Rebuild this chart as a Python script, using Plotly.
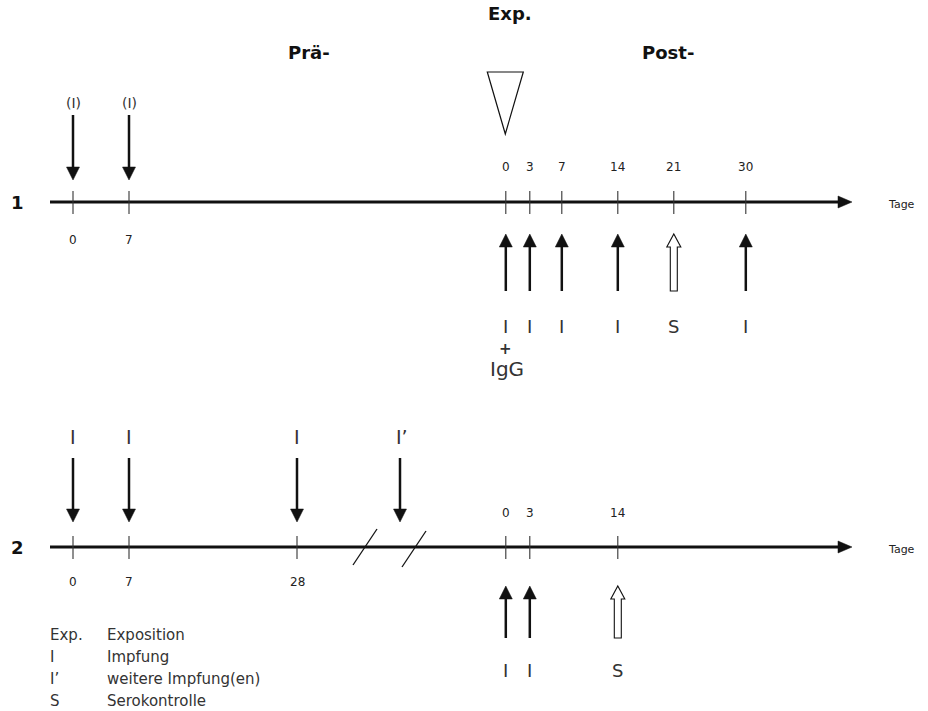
"""
Impfschema: Prä- und Postexpositionsprophylaxe
"""
import plotly.graph_objects as go

# ---- data (days) ----
PRE_DAYS_1 = [0, 7]
PRE_LABELS_1 = ['(I)', '(I)']
POST_DAYS_1 = [0, 3, 7, 14, 21, 30]
POST_KINDS_1 = ['I', 'I', 'I', 'I', 'S', 'I']

PRE_DAYS_2 = [0, 7, 28]
PRE_LABELS_2 = ['I', 'I', 'I']
POST_DAYS_2 = [0, 3, 14]
POST_KINDS_2 = ['I', 'I', 'S']

LEGEND_KEYS = ['Exp.', 'I', 'I\u2019', 'S']
LEGEND_TEXT = ['Exposition', 'Impfung', 'weitere Impfung(en)', 'Serokontrolle']

# ---- layout ----
W, H = 928, 711
PX_PER_DAY = 8.0
X0 = -9.125                      # axis value at left edge
POST_OFFSET = 54.1               # post-exposure day 0 on the axis
FONT = 'DejaVu Sans, Verdana, sans-serif'
INK = '#111111'
GREY = '#333333'


def px(p):
    """pixel column -> x axis value (layout helpers only)"""
    return X0 + p / PX_PER_DAY


def u(p):
    """pixel length -> x axis units"""
    return p / PX_PER_DAY


fig = go.Figure()
shapes = []
notes = []


def text(x, y, s, size=12, bold=False, color='#222222', anchor='center'):
    notes.append(dict(x=x, y=y, text=f'<b>{s}</b>' if bold else s,
                      showarrow=False, xanchor=anchor, yanchor='middle',
                      font=dict(family=FONT, size=size, color=color)))


def line(x0, y0, x1, y1, width=1.2, color=INK):
    shapes.append(dict(type='line', x0=x0, y0=y0, x1=x1, y1=y1,
                       line=dict(color=color, width=width)))


def arrow(x, y_tail, y_tip, hollow=False):
    d = 1 if y_tip > y_tail else -1
    head = 13
    base = y_tip - d * head
    if hollow:
        sw, hw = u(3.5), u(7)
        path = (f'M {x - sw},{y_tail} L {x - sw},{base} L {x - hw},{base} '
                f'L {x},{y_tip} L {x + hw},{base} L {x + sw},{base} '
                f'L {x + sw},{y_tail} Z')
        shapes.append(dict(type='path', path=path, fillcolor='white',
                           line=dict(color=INK, width=1.1)))
    else:
        line(x, y_tail, x, base + d, width=2.5)
        hw = u(6.5)
        path = f'M {x - hw},{base} L {x},{y_tip} L {x + hw},{base} Z'
        shapes.append(dict(type='path', path=path, fillcolor=INK,
                           line=dict(color=INK, width=0.5)))


def timeline(y, label):
    x_start, x_tip = px(50), px(852)
    line(x_start, y, x_tip - u(10), y, width=3)
    path = (f'M {x_tip - u(14)},{y - 6} L {x_tip},{y} '
            f'L {x_tip - u(14)},{y + 6} Z')
    shapes.append(dict(type='path', path=path, fillcolor=INK,
                       line=dict(color=INK, width=0.5)))
    text(px(17), y, label, size=18, bold=True, color=INK)
    text(px(901), y + 2, 'Tage', size=11)


def tick(x, y):
    line(x, y - 11, x, y + 12, width=1.1, color=GREY)


# header
text(px(510), 13, 'Exp.', size=18, bold=True, color=INK)
text(px(309), 52, 'Prä-', size=18, bold=True, color=INK)
text(px(668), 52, 'Post-', size=18, bold=True, color=INK)
tri = (f'M {POST_OFFSET - u(18.5)},72 L {POST_OFFSET + u(17.5)},72 '
       f'L {POST_OFFSET - u(0.5)},134 Z')
shapes.append(dict(type='path', path=tri, fillcolor='white',
                   line=dict(color=INK, width=1.2)))

# ---- schema 1 ----
Y1 = 202
timeline(Y1, '1')
for d, lab in zip(PRE_DAYS_1, PRE_LABELS_1):
    tick(d, Y1)
    text(d, 240, str(d), size=12)
    text(d, 103, lab, size=14, color=GREY)
    arrow(d, 115, 180)
for d, kind in zip(POST_DAYS_1, POST_KINDS_1):
    x = POST_OFFSET + d
    tick(x, Y1)
    text(x, 167, str(d), size=12)
    arrow(x, 291, 234, hollow=(kind == 'S'))
    text(x, 326, kind, size=18, color=GREY)
text(POST_OFFSET, 349, '+', size=15, bold=True, color=GREY)
text(POST_OFFSET + 0.2, 369, 'IgG', size=20, color=GREY)

# ---- schema 2 ----
Y2 = 547
timeline(Y2, '2')
for d, lab in zip(PRE_DAYS_2, PRE_LABELS_2):
    tick(d, Y2)
    text(d, 582, str(d), size=12)
    text(d, 437, lab, size=19, color=GREY)
    arrow(d, 458, 522)
# further vaccinations in the break of the time axis
text(px(402), 437, 'I\u2019', size=19, color=GREY)
arrow(px(400), 458, 522)
for bx, by in [(px(365), Y2), (px(414), Y2 + 2)]:
    line(bx - u(12), by + 18, bx + u(12), by - 18, width=1.3)
for d, kind in zip(POST_DAYS_2, POST_KINDS_2):
    x = POST_OFFSET + d
    tick(x, Y2)
    text(x, 513, str(d), size=12)
    arrow(x, 638, 586, hollow=(kind == 'S'))
    text(x, 670, kind, size=18, color=GREY)

# legend
for i, (k, t) in enumerate(zip(LEGEND_KEYS, LEGEND_TEXT)):
    y = 635 + i * 22
    text(px(48), y, k, size=15, color=GREY, anchor='left')
    text(px(105), y, t, size=15, color=GREY, anchor='left')

fig.update_layout(
    width=W, height=H,
    margin=dict(l=0, r=0, t=0, b=0),
    paper_bgcolor='white', plot_bgcolor='white',
    shapes=shapes, annotations=notes,
    showlegend=False,
    xaxis=dict(range=[X0, X0 + W / PX_PER_DAY], visible=False, fixedrange=True),
    yaxis=dict(range=[H, 0], visible=False, fixedrange=True),
)

fig.write_html('out.html', config=dict(displayModeBar=False),
               post_script="document.body.style.margin='0';")
